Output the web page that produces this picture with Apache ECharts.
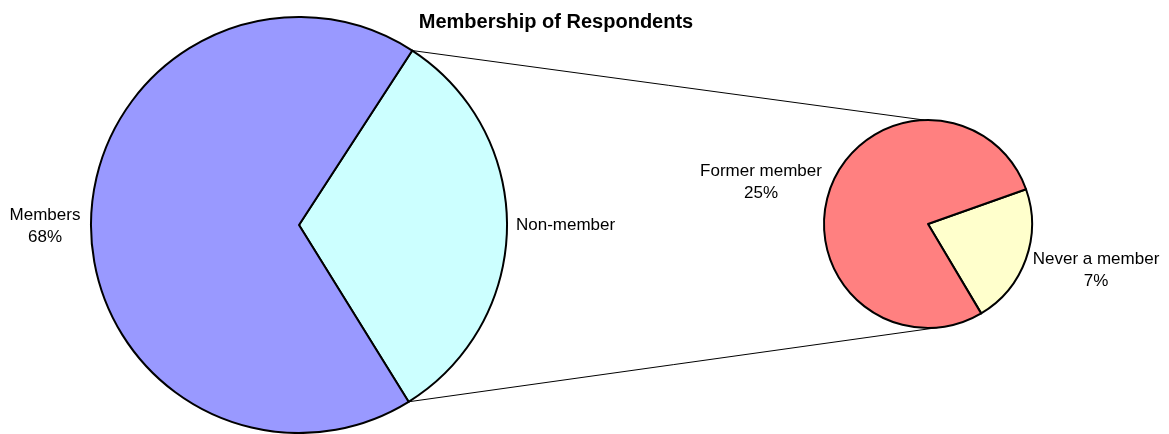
<!DOCTYPE html>
<html>
<head>
<meta charset="utf-8">
<script src="https://cdn.jsdelivr.net/npm/echarts@6/dist/echarts.min.js"></script>
<style>
  html, body { margin: 0; padding: 0; background: #fff; }
  #chart { width: 1169px; height: 434px; }
</style>
</head>
<body>
<div id="chart"></div>
<script>
// Membership breakdown (percent of all respondents)
const mainCategories = ['Non-member', 'Members'];
const mainValues = [32, 68];
const subCategories = ['Never a member', 'Former member'];
const subValues = [7, 25];

const mainColors = ['#CCFFFF', '#9999FF'];
const subColors = ['#FFFFCC', '#FF8080'];

const FONT = '"Liberation Sans", Arial, sans-serif';

// geometry of the two pies
const big = { cx: 299, cy: 225, r: 208, start: 57 };
const small = { cx: 928, cy: 224, r: 104, start: 19.5 };

const mainTotal = mainValues.reduce((a, b) => a + b, 0);

function pt(p, deg) {
  const a = deg * Math.PI / 180;
  return [p.cx + p.r * Math.cos(a), p.cy - p.r * Math.sin(a)];
}

// split slice edges on the main pie
const splitTop = big.start;
const splitBottom = big.start - mainValues[0] / mainTotal * 360;

const labelSpots = {
  'Members': { x: 45, y: 226, align: 'center' },
  'Non-member': { x: 516, y: 225, align: 'left' },
  'Former member': { x: 761, y: 182, align: 'center' },
  'Never a member': { x: 1096, y: 270, align: 'center' }
};

function layoutFor(names) {
  return function (params) {
    const s = labelSpots[names[params.dataIndex]];
    return { x: s.x, y: s.y, align: s.align, verticalAlign: 'middle', draggable: false };
  };
}

const chart = echarts.init(document.getElementById('chart'), null, { renderer: 'canvas' });

const labelText = { fontFamily: FONT, fontSize: 17, color: '#000', lineHeight: 22 };

const option = {
  animation: false,
  backgroundColor: '#ffffff',
  title: {
    text: 'Membership of Respondents',
    left: 551, top: 7, textAlign: 'center',
    textStyle: { fontFamily: FONT, fontSize: 20, fontWeight: 'bold', color: '#000' }
  },
  graphic: [
    {
      type: 'line', silent: true,
      shape: (() => { const a = pt(big, splitTop), b = pt(small, 92); return { x1: a[0], y1: a[1], x2: b[0], y2: b[1] }; })(),
      style: { stroke: '#000', lineWidth: 1 }
    },
    {
      type: 'line', silent: true,
      shape: (() => { const a = pt(big, splitBottom), b = pt(small, -84); return { x1: a[0], y1: a[1], x2: b[0], y2: b[1] }; })(),
      style: { stroke: '#000', lineWidth: 1 }
    }
  ],
  series: [
    {
      type: 'pie',
      center: [big.cx, big.cy],
      radius: [0, big.r],
      startAngle: big.start,
      clockwise: true,
      avoidLabelOverlap: false,
      itemStyle: { borderColor: '#000', borderWidth: 2 },
      emphasis: { disabled: true },
      label: Object.assign({
        show: true,
        formatter: p => p.name === 'Non-member' ? p.name : p.name + '\n' + Math.round(p.value / mainTotal * 100) + '%'
      }, labelText),
      labelLine: { show: false },
      labelLayout: layoutFor(mainCategories),
      data: mainCategories.map((n, i) => ({ name: n, value: mainValues[i], itemStyle: { color: mainColors[i] } }))
    },
    {
      type: 'pie',
      center: [small.cx, small.cy],
      radius: [0, small.r],
      startAngle: small.start,
      clockwise: true,
      avoidLabelOverlap: false,
      itemStyle: { borderColor: '#000', borderWidth: 2 },
      emphasis: { disabled: true },
      label: Object.assign({
        show: true,
        formatter: p => p.name + '\n' + Math.round(p.value / mainTotal * 100) + '%'
      }, labelText),
      labelLine: { show: false },
      labelLayout: layoutFor(subCategories),
      data: subCategories.map((n, i) => ({ name: n, value: subValues[i], itemStyle: { color: subColors[i] } }))
    }
  ]
};

chart.setOption(option);
</script>
</body>
</html>
